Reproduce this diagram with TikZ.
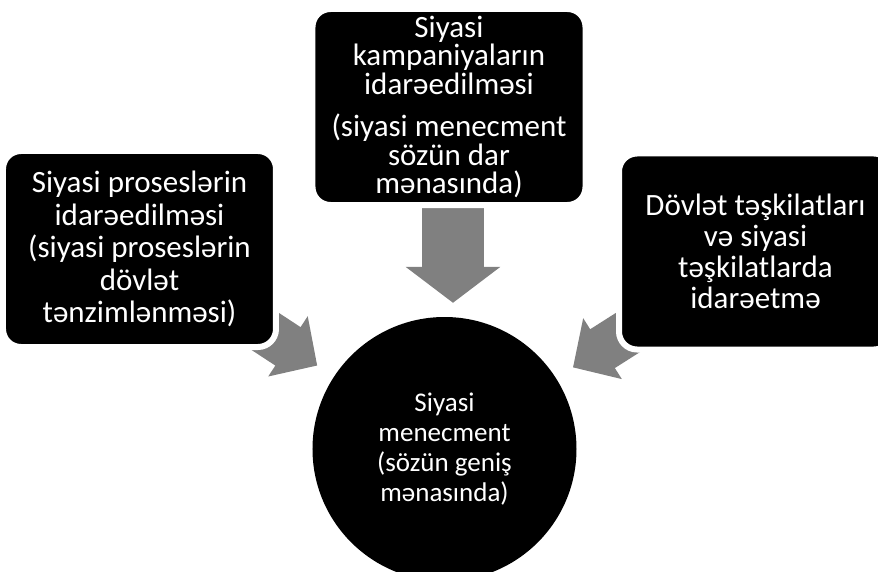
\documentclass[tikz,border=0pt]{standalone}
\usepackage{fontspec}
\setmainfont{Carlito}
\usetikzlibrary{arrows.meta}
\usetikzlibrary{positioning}
\usetikzlibrary{backgrounds}

\tikzset{
	topic/.style={rectangle, rounded corners=18pt, fill=black, draw=white, line width=6pt,
		text=white, align=center, minimum width=273pt, minimum height=196pt, inner sep=2pt,
		font=\fontsize{31}{32.5}\selectfont},
	core/.style={circle, fill=black, text=white, align=center, minimum size=264pt,
		inner sep=0pt, font=\fontsize{27}{30}\selectfont},
	flow/.style={draw=black!50, line width=46pt, -{Triangle[width=70pt,length=35pt]}, shorten >=20pt},
	mainflow/.style={draw=black!50, line width=61pt, -{Triangle[width=93pt,length=36pt]}, shorten >=14pt},
}

\begin{document}
\begin{tikzpicture}[on grid]
	\clip (-444.5pt,-122pt) rectangle (433.5pt,449pt);
	\node[core] (management) {Siyasi\\menecment\\(sözün geniş\\mənasında)};
	\node[topic, font=\fontsize{31}{28.5}\selectfont] (campaigns) [above right=342pt and 4.5pt of management]
	{Siyasi\\kampaniyaların\\idarəedilməsi\\[14pt](siyasi menecment\\sözün dar\\mənasında)};
	\node[topic] (processes) [above left=200pt and 305pt of management]
	{Siyasi proseslərin\\idarəedilməsi\\(siyasi proseslərin\\dövlət\\tənzimlənməsi)};
	\node[topic, font=\fontsize{31}{31}\selectfont] (organizations) [above right=197.5pt and 311pt of management]
	{Dövlət təşkilatları\\və siyasi\\təşkilatlarda\\idarəetmə};
	
	% arrows go under the boxes
	\begin{scope}[on background layer]
		\draw[mainflow] ([xshift=4pt]campaigns.south) -- ([xshift=8.5pt]management.north);
		\draw[flow] (processes.center) -- (management);
		\draw[flow] (organizations.center) -- (management);
	\end{scope}
\end{tikzpicture}
\end{document}
